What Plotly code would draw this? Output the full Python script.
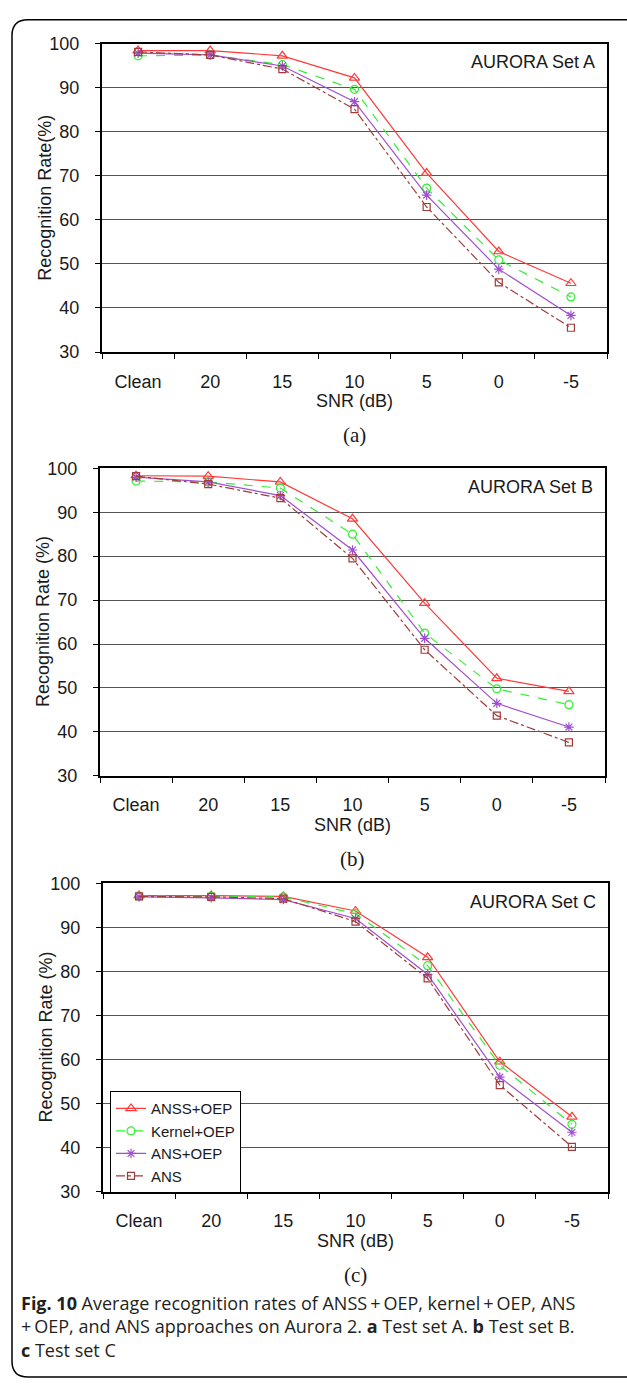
import plotly.graph_objects as go

# SNR conditions on the x axis
categories = ["Clean", "20", "15", "10", "5", "0", "-5"]
y_ticks = [30, 40, 50, 60, 70, 80, 90, 100]

# Recognition rates (%) - AURORA test set A
anss_oep_a = [98.4, 98.4, 97.2, 92.2, 70.6, 52.8, 45.6]
kernel_oep_a = [97.2, 97.4, 95.2, 89.6, 67.2, 50.9, 42.5]
ans_oep_a = [97.8, 97.4, 94.9, 86.8, 65.6, 48.8, 38.3]
ans_a = [98.1, 97.4, 94.2, 85.1, 62.9, 45.8, 35.5]

# Recognition rates (%) - AURORA test set B
anss_oep_b = [98.3, 98.2, 96.9, 88.5, 69.3, 52.2, 49.2]
kernel_oep_b = [97.1, 96.9, 95.5, 85.0, 62.5, 49.8, 46.2]
ans_oep_b = [98.0, 96.9, 93.8, 81.4, 61.3, 46.5, 41.1]
ans_b = [98.2, 96.4, 93.2, 79.5, 58.7, 43.7, 37.6]

# Recognition rates (%) - AURORA test set C
anss_oep_c = [97.2, 97.2, 97.0, 93.7, 83.2, 59.5, 47.0]
kernel_oep_c = [97.1, 97.0, 96.9, 93.1, 81.3, 58.7, 45.3]
ans_oep_c = [96.9, 96.7, 96.3, 92.0, 79.3, 56.0, 43.5]
ans_c = [97.0, 96.9, 96.5, 91.3, 78.4, 54.2, 40.2]

series_names = ["ANSS+OEP", "Kernel+OEP", "ANS+OEP", "ANS"]
panel_titles = ["AURORA Set A", "AURORA Set B", "AURORA Set C"]
panel_letters = ["(a)", "(b)", "(c)"]
y_titles = ["Recognition Rate(%)", "Recognition Rate (%)", "Recognition Rate (%)"]
x_title = "SNR (dB)"

caption_lines = [
    "<b>Fig. 10</b> Average recognition rates of ANSS\u2009+\u2009OEP, kernel\u2009+\u2009OEP, ANS",
    "+\u2009OEP, and ANS approaches on Aurora 2. <b>a</b> Test set A. <b>b</b> Test set B.",
    "<b>c</b> Test set C",
]

panels_data = [
    [anss_oep_a, kernel_oep_a, ans_oep_a, ans_a],
    [anss_oep_b, kernel_oep_b, ans_oep_b, ans_b],
    [anss_oep_c, kernel_oep_c, ans_oep_c, ans_c],
]

W, H = 627, 1389


def fx(px):
    return px / W


def fy(py):
    return 1 - py / H


styles = [
    dict(color="#FF3A3A", dash="solid", symbol="triangle-up-open", size=9),
    dict(color="#33EE33", dash="dash", symbol="circle-open", size=8),
    dict(color="#A04FD0", dash="solid", symbol="asterisk-open", size=8),
    dict(color="#A33B3B", dash="dashdot", symbol="square-open", size=7),
]

# plot-area boxes in pixels: left, right, top, bottom
boxes = [(102, 607, 34, 347), (100, 605, 465, 777), (103, 608, 886, 1199)]

FONT = "Liberation Sans"
TXT = "#1a1a1a"

fig = go.Figure()
annotations = []

for i, (data, box) in enumerate(zip(panels_data, boxes)):
    left, right, top, bottom = box
    xa = "x" if i == 0 else f"x{i + 1}"
    ya = "y" if i == 0 else f"y{i + 1}"
    for name, vals, st in zip(series_names, data, styles):
        fig.add_trace(go.Scatter(
            x=categories, y=vals, name=name, xaxis=xa, yaxis=ya,
            mode="lines+markers",
            line=dict(color=st["color"], width=1.2, dash=st["dash"]),
            marker=dict(symbol=st["symbol"], size=st["size"], color=st["color"],
                        line=dict(color=st["color"], width=1.2)),
            showlegend=(i == 2),
        ))

    xkey = "xaxis" if i == 0 else f"xaxis{i + 1}"
    ykey = "yaxis" if i == 0 else f"yaxis{i + 1}"
    fig.update_layout({
        xkey: dict(
            domain=[fx(left), fx(right)], anchor=ya, type="category",
            categoryorder="array", categoryarray=categories,
            range=[-0.5, 6.5], tickson="boundaries", ticks="outside",
            ticklen=5, tickwidth=1, tickcolor="#000",
            showline=True, mirror=True, linecolor="#000", linewidth=2,
            showgrid=False, zeroline=False,
            tickfont=dict(family=FONT, size=18, color=TXT),
            ticklabelstandoff=12,
        ),
        ykey: dict(
            domain=[fy(bottom), fy(top)], anchor=xa, range=[30, 100],
            tickvals=y_ticks, ticks="outside", ticklen=5, tickwidth=1,
            tickcolor="#000", showline=True, mirror=True, linecolor="#000",
            linewidth=2, showgrid=True, gridcolor="#555555", gridwidth=1,
            zeroline=False, tickfont=dict(family=FONT, size=18, color=TXT),
            ticklabelstandoff=12,
        ),
    })

    cx = (left + right) / 2
    annotations += [
        dict(text=panel_titles[i], xref="paper", yref="paper",
             x=fx(right - 10), y=fy(top + 7), xanchor="right", yanchor="top",
             showarrow=False, font=dict(family=FONT, size=18, color=TXT)),
        dict(text=x_title, xref="paper", yref="paper", x=fx(cx),
             y=fy(bottom + 50), xanchor="center", yanchor="middle",
             showarrow=False, font=dict(family=FONT, size=18, color=TXT)),
        dict(text=y_titles[i], xref="paper", yref="paper", x=fx(left - 57),
             y=fy((top + bottom) / 2), xanchor="center", yanchor="middle",
             textangle=-90, showarrow=False,
             font=dict(family=FONT, size=18, color=TXT)),
        dict(text=panel_letters[i], xref="paper", yref="paper", x=fx(cx),
             y=fy(bottom + 84), xanchor="center", yanchor="middle",
             showarrow=False,
             font=dict(family="Liberation Serif", size=21, color=TXT)),
    ]

# figure caption as one left-aligned block
annotations.append(dict(
    text="<br>".join(caption_lines), xref="paper", yref="paper",
    x=fx(19), y=fy(1336), xanchor="left", yanchor="middle", align="left",
    showarrow=False, font=dict(family="Open Sans", size=18, color="#231F20")))

# rounded outer frame (open on the right side)
r = 16
x0, y0, x1, y1 = 12, 10, 660, 1387
frame_path = (
    f"M {fx(x1)},{fy(y0)} L {fx(x0 + r)},{fy(y0)} "
    f"Q {fx(x0)},{fy(y0)} {fx(x0)},{fy(y0 + r)} "
    f"L {fx(x0)},{fy(y1 - r)} Q {fx(x0)},{fy(y1)} {fx(x0 + r)},{fy(y1)} "
    f"L {fx(x1)},{fy(y1)}"
)

fig.update_layout(
    width=W, height=H, autosize=False,
    margin=dict(l=0, r=0, t=0, b=0),
    paper_bgcolor="white", plot_bgcolor="white",
    annotations=annotations,
    shapes=[dict(type="path", path=frame_path, xref="paper", yref="paper",
                 line=dict(color="#000", width=1.5))],
    legend=dict(
        x=fx(110), y=fy(1097), xanchor="left", yanchor="top",
        bgcolor="white", bordercolor="#000", borderwidth=1,
        font=dict(family=FONT, size=15, color=TXT),
        tracegroupgap=0, itemwidth=30,
    ),
    showlegend=True,
)

fig.write_html("out.html")
